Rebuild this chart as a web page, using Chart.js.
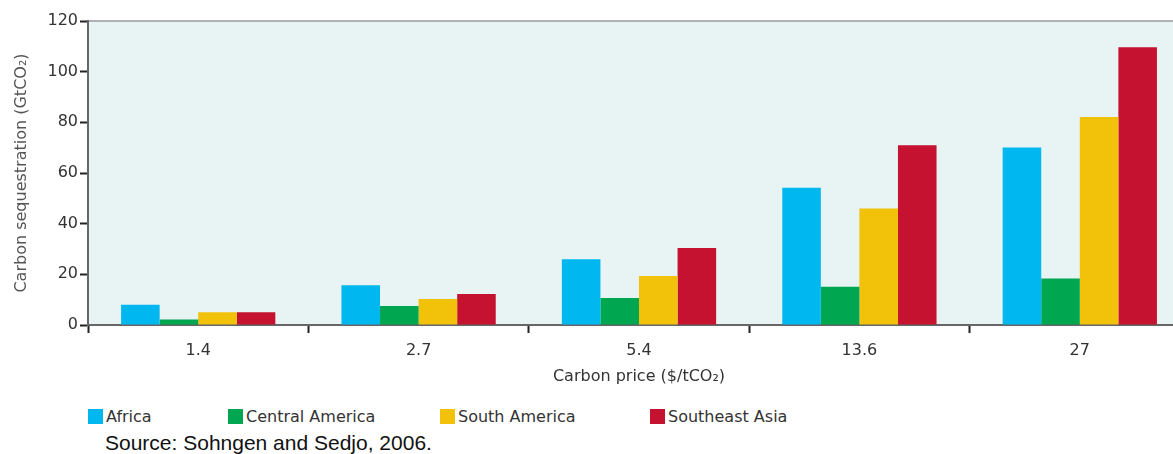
<!DOCTYPE html>
<html>
<head>
<meta charset="utf-8">
<script src="https://cdn.jsdelivr.net/npm/chart.js@4"></script>
<style>
  html, body { margin: 0; padding: 0; background: #fff; overflow: hidden; }
  #wrap { position: relative; width: 1173px; height: 454px; overflow: hidden; }
  #grafico { position: absolute; left: 0; top: 0; }
  .legenda { position: absolute; top: 407px; left: 0; font-family: "DejaVu Sans", sans-serif; font-size: 16px; color: #333; }
  .legenda span.item { position: absolute; white-space: nowrap; display: flex; align-items: center; }
  .legenda i { display: inline-block; width: 15px; height: 15px; margin-right: 3px; }
  .fonte { position: absolute; left: 105px; top: 431px; font-family: "Liberation Sans", Arial, sans-serif; font-size: 21px; color: #111; }
</style>
</head>
<body>
<div id="wrap">
  <canvas id="grafico" width="1190" height="400"></canvas>
  <div class="legenda" id="legenda"></div>
  <div class="fonte">Source: Sohngen and Sedjo, 2006.</div>
</div>
<script>
// ===== DADOS =====
const precos = ['1.4', '2.7', '5.4', '13.6', '27'];
const africa = [8, 15.7, 26, 54.2, 70.1];
const americaCentral = [2.2, 7.5, 10.7, 15.1, 18.4];
const americaSul = [5, 10.3, 19.3, 46, 82.1];
const sudesteAsiatico = [5, 12.2, 30.4, 71, 109.6];
const yTicks = [0, 20, 40, 60, 80, 100, 120];

const series = [
  { nome: 'Africa', dados: africa, cor: '#00b7ef' },
  { nome: 'Central America', dados: americaCentral, cor: '#00a650' },
  { nome: 'South America', dados: americaSul, cor: '#f2c10a' },
  { nome: 'Southeast Asia', dados: sudesteAsiatico, cor: '#c41230' }
];

// ===== FUNDO DA ÁREA =====
const fundoPlugin = {
  id: 'fundo',
  beforeDraw(chart) {
    const { ctx, chartArea: a } = chart;
    ctx.save();
    ctx.fillStyle = '#e8f4f4';
    ctx.fillRect(a.left, a.top, a.right - a.left, a.bottom - a.top);
    ctx.strokeStyle = '#9a9a9a';
    ctx.lineWidth = 1.5;
    ctx.beginPath();
    ctx.moveTo(a.left, a.top);
    ctx.lineTo(a.right, a.top);
    ctx.stroke();
    ctx.restore();
  }
};

const fonteTick = { family: 'DejaVu Sans', size: 16 };
const fonteTitulo = { family: 'DejaVu Sans', size: 16 };

new Chart(document.getElementById('grafico').getContext('2d'), {
  type: 'bar',
  data: {
    labels: precos,
    datasets: series.map(s => ({
      label: s.nome,
      data: s.dados,
      backgroundColor: s.cor,
      borderWidth: 0,
      categoryPercentage: 0.7,
      barPercentage: 1.0
    }))
  },
  options: {
    responsive: false,
    animation: false,
    layout: { padding: { top: 21, right: 0, left: 12, bottom: 10 } },
    plugins: { legend: { display: false }, tooltip: { enabled: false } },
    scales: {
      x: {
        border: { color: '#666', width: 2 },
        grid: { drawOnChartArea: false, offset: true, tickLength: 8, color: '#222', tickWidth: 2 },
        ticks: { color: '#333', font: fonteTick, padding: 8 },
        title: { display: true, text: 'Carbon price ($/tCO₂)', color: '#333', font: fonteTitulo, padding: { top: 4 } },
        afterFit(scale) { scale.height = 65; }
      },
      y: {
        min: 0, max: 120,
        border: { color: '#666', width: 2 },
        grid: { drawOnChartArea: false, tickLength: 8, color: '#222', tickWidth: 2 },
        afterBuildTicks(scale) { scale.ticks = yTicks.map(v => ({ value: v })); },
        ticks: { color: '#333', font: fonteTick, padding: 2 },
        title: { display: true, text: 'Carbon sequestration (GtCO₂)', color: '#555', font: fonteTitulo, padding: 0 },
        afterFit(scale) { scale.width = 76; }
      }
    }
  },
  plugins: [fundoPlugin]
});

// ===== LEGENDA =====
const posLegenda = [88, 228, 440, 650];
document.getElementById('legenda').innerHTML = series.map((s, i) => `
  <span class="item" style="left:${posLegenda[i]}px"><i style="background:${s.cor}"></i>${s.nome}</span>
`).join('');
</script>
</body>
</html>
